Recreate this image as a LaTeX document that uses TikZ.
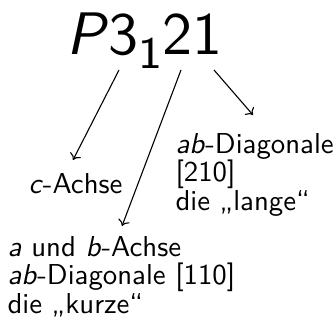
\documentclass[tikz,border=0pt]{standalone}
\usetikzlibrary{arrows.meta}
\begin{document}
\begin{tikzpicture}[x=1pt,y=-1pt,
  lbl/.style={font=\sffamily\fontsize{10}{12}\selectfont, scale=2.88, inner sep=0pt, anchor=base west},
  arr/.style={line width=1.1pt, -{To[length=6pt,width=12pt]}}]
\useasboundingbox (0,0) rectangle (336,334);
\node[inner sep=0pt, anchor=base west, scale=6, font=\sffamily\fontsize{10}{12}\selectfont] (title) at (65,55)
  {\itshape P\/\upshape 3\raisebox{-2.2pt}{\fontsize{7.5}{9}\selectfont 1}21};
\node[lbl] (c) at (28,193) {\textit{c}-Achse};
\node[lbl] (r1) at (175,153) {\textit{ab}-Diagonale};
\node[lbl] (r2) at (175,181.5) {[210]};
\node[lbl] (r3) at (175,210) {die „lange“};
\node[lbl] (l1) at (7,256) {\textit{a} und \textit{b}-Achse};
\node[lbl] (l2) at (7,284.5) {\textit{ab}-Diagonale [110]};
\node[lbl] (l3) at (7,313) {die „kurze“};
\coordinate (s1) at (119,70);
\coordinate (e1) at (73,160);
\coordinate (s2) at (181,70);
\coordinate (e2) at (122,226);
\coordinate (s3) at (214,70);
\coordinate (e3) at (253,115);
\draw[arr] (s1) -- (e1);
\draw[arr] (s2) -- (e2);
\draw[arr] (s3) -- (e3);
\end{tikzpicture}
\end{document}
